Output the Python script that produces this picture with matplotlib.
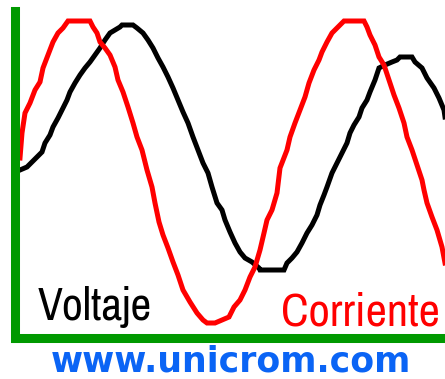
import matplotlib
matplotlib.use("Agg")
import matplotlib.pyplot as plt
from matplotlib import font_manager as fm

# Time (arbitrary units) and amplitude (arbitrary units)
t_corriente = [0, 2, 5, 10, 15, 20, 23, 28, 33, 38, 43, 48, 59, 70, 73, 77, 80, 85, 90, 95, 98,
               103, 108, 113, 117, 122, 127, 132, 135, 139, 143, 148, 153, 158, 163, 170, 177,
               183, 187, 195, 202, 209, 214, 220, 225, 230, 235, 240, 244, 247, 252, 257, 260,
               267, 270, 275, 280, 285, 289, 294, 299, 302, 307, 312, 317, 322, 324, 334, 344,
               347, 350, 355, 359, 364, 369, 374, 379, 384, 387, 392, 397, 402, 404, 407, 412,
               417, 422, 425]
v_corriente = [13, 38, 58, 68, 81, 89, 103, 116, 129, 138, 143, 150, 150, 150, 144, 138, 129, 123,
               116, 104, 91, 79, 64, 48, 34, 21, 1, -16, -32, -51, -64, -77, -91, -104, -119,
               -131, -142, -149, -152, -152, -149, -146, -136, -129, -119, -106, -96, -79, -62,
               -49, -39, -22, 3, 21, 34, 48, 61, 74, 88, 101, 111, 119, 129, 138, 143, 148, 150,
               150, 150, 144, 136, 126, 114, 106, 91, 76, 63, 48, 34, 21, 6, -9, -19, -32, -46,
               -59, -76, -92]

t_voltaje = [0, 7, 12, 17, 22, 25, 30, 33, 38, 42, 47, 50, 55, 60, 65, 70, 75, 80, 85, 90, 95,
             100, 102, 113, 117, 123, 128, 133, 138, 143, 148, 153, 158, 163, 168, 173, 178, 183,
             188, 192, 197, 202, 205, 210, 215, 220, 225, 232, 239, 240, 264, 267, 272, 277, 282,
             287, 292, 297, 300, 304, 307, 312, 317, 322, 327, 330, 334, 339, 342, 347, 350, 355,
             359, 365, 372, 377, 380, 392, 395, 402, 407, 414, 419, 424, 425]
v_voltaje = [1, 4, 9, 14, 19, 28, 36, 44, 53, 61, 71, 79, 88, 96, 103, 109, 116, 123, 131, 138,
             141, 144, 146, 146, 143, 138, 131, 123, 113, 104, 94, 83, 71, 59, 48, 34, 21, 8, -2,
             -16, -32, -39, -49, -61, -72, -81, -87, -91, -97, -99, -99, -92, -87, -81, -72, -62,
             -54, -44, -34, -24, -16, -2, 8, 18, 28, 38, 46, 54, 63, 71, 79, 91, 103, 106, 109,
             111, 114, 114, 109, 103, 93, 83, 73, 61, 54]

label_voltaje = "Voltaje"
label_corriente = "Corriente"
site = "www.unicrom.com"

W, H = 445, 379
fig = plt.figure(figsize=(W / 100, H / 100), dpi=100)
fig.patch.set_facecolor("white")

L, B, T = 15.5, 338.0, 10.5
ax = fig.add_axes([L / W, (H - B) / H, (W - L) / W, (B - T) / H])
ax.set_xlim(-4.5, 425)
ax.set_ylim(-167, 160.5)

ax.plot(t_voltaje, v_voltaje, color="black", lw=3.6, solid_joinstyle="miter", zorder=2)
ax.plot(t_corriente, v_corriente, color="#ff0000", lw=3.6, solid_joinstyle="miter", zorder=3)

for side in ["top", "right"]:
    ax.spines[side].set_visible(False)
for side in ["left", "bottom"]:
    ax.spines[side].set_color("#009900")
    ax.spines[side].set_linewidth(6.5)
    ax.spines[side].set_capstyle("projecting")
    ax.spines[side].set_zorder(5)
ax.set_xticks([])
ax.set_yticks([])

# pick a narrow sans font if one is installed
narrow = None
for f in fm.fontManager.ttflist:
    nm = f.name.lower()
    if ("narrow" in nm or "condensed" in nm) and f.weight in (400, "normal", "regular") \
            and f.style == "normal":
        narrow = (f.name, "normal")
        break
if narrow is None:
    for f in fm.fontManager.ttflist:
        if str(f.stretch) in ("condensed", "semi-condensed") and f.style == "normal" \
                and f.weight in (400, "normal", "regular") and \
                f.name in ("DejaVu Sans", "Noto Sans", "Open Sans", "Roboto", "Liberation Sans"):
            narrow = (f.name, f.stretch)
            break
if narrow is None:
    narrow = ("Liberation Sans", "normal")

renderer = fig.canvas.get_renderer()


def fitted_text(x, y, s, color, target_w):
    t = fig.text(x / W, 1 - y / H, s, color=color, fontsize=30, family=[narrow[0], "DejaVu Sans"],
                 fontstretch=narrow[1], ha="left", va="baseline")
    w = t.get_window_extent(renderer).width
    t.set_fontsize(30 * target_w / w)
    return t


fitted_text(38, 320, label_voltaje, "black", 114)
fitted_text(281, 325, label_corriente, "#ff0000", 159)
fig.text(231 / W, 1 - 378.5 / H, site, color="#0a64f5", fontsize=25,
         family=["DejaVu Sans"], fontweight="bold", ha="center", va="bottom")

fig.savefig("out.png", dpi=100)
